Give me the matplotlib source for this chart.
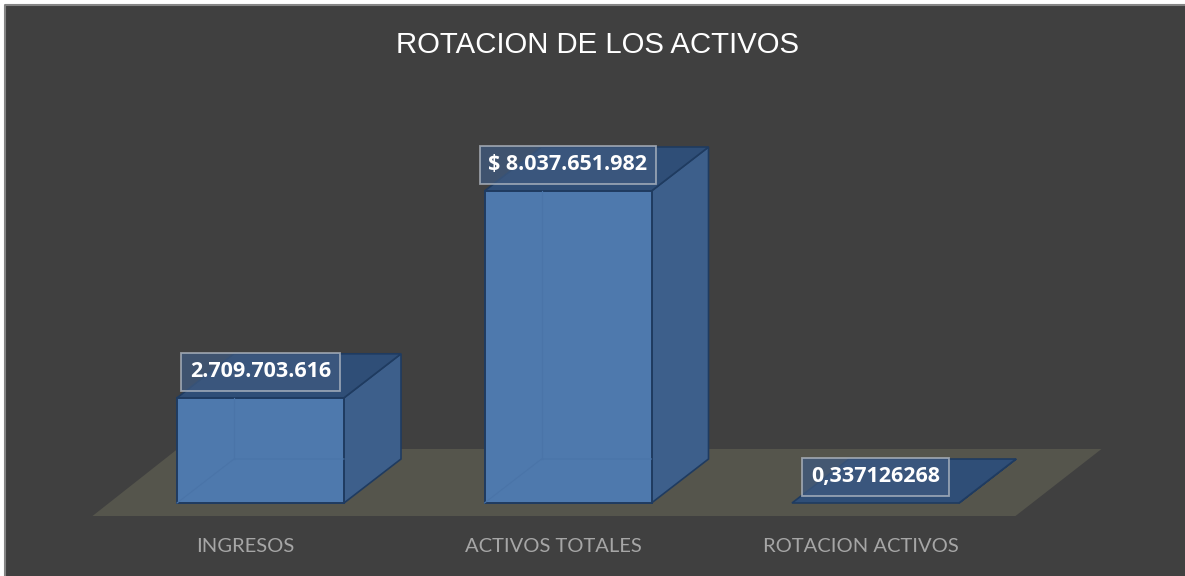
import matplotlib
matplotlib.use('Agg')
import matplotlib.pyplot as plt
from matplotlib.patches import Polygon

categories = ['INGRESOS', 'ACTIVOS TOTALES', 'ROTACION ACTIVOS']
values = [2709703616, 8037651982, 0.337126268]
value_labels = ['2.709.703.616', '$ 8.037.651.982', '0,337126268']
title = 'ROTACION DE LOS ACTIVOS'

W, H = 1185, 576
bg = '#404040'
front_c = '#4E79AD'
side_c = '#3D5F8B'
top_c = '#2F4E77'
edge_c = '#1F3B60'
floor_c = '#55554C'

# escala: pixeles -> unidades del eje
x_unit = 307.5
y_unit = 8037651982 / 312
x0_px = 260.5
y0_px = 503

bar_w = 167 / x_unit
dx = 57 / x_unit
dy = 44 * y_unit
floor_front = -13 * y_unit
floor_back = 54 * y_unit


def main():
    fig = plt.figure(figsize=(W / 100, H / 100), dpi=100, facecolor='white')
    ax = fig.add_axes([0, 0, 1, 1])
    ax.set_xlim(-x0_px / x_unit, (W - x0_px) / x_unit)
    ax.set_ylim(-(H - y0_px) * y_unit, y0_px * y_unit)
    ax.axis('off')

    # fondo y borde (solo arriba e izquierda)
    m_x, m_y = 5 / W, 5 / H
    ax.add_patch(plt.Rectangle((m_x, 0), 1 - m_x, 1 - m_y, transform=ax.transAxes, fc=bg, ec='none', zorder=0))
    ax.plot([m_x, m_x, 1], [0, 1 - m_y, 1 - m_y], transform=ax.transAxes, color='#858585', lw=1.5, zorder=0.5)

    # piso
    ax.add_patch(Polygon([(-168 / x_unit, floor_front), (755 / x_unit, floor_front),
                          (841 / x_unit, floor_back), (-83 / x_unit, floor_back)],
                         fc=floor_c, ec='none', zorder=1))

    for i, v in enumerate(values):
        l, r = i - bar_w / 2, i + bar_w / 2
        # lado y tapa
        ax.add_patch(Polygon([(r, 0), (r + dx, dy), (r + dx, v + dy), (r, v)],
                             fc=side_c, ec=edge_c, lw=1.2, zorder=3))
        ax.add_patch(Polygon([(l, v), (r, v), (r + dx, v + dy), (l + dx, v + dy)],
                             fc=top_c, ec=edge_c, lw=1.2, zorder=3))
        if v > 1:
            # frente
            ax.add_patch(Polygon([(l, 0), (r, 0), (r, v), (l, v)],
                                 fc=front_c, ec=edge_c, lw=1.4, zorder=4))
            # aristas de atras, se ven por la transparencia
            ax.plot([l, l + dx, r], [0, dy, dy], color='#4A74A8', lw=0.8, zorder=5)
            ax.plot([l + dx, l + dx], [dy, v], color='#4A74A8', lw=0.8, zorder=5)

    # etiquetas
    offs = [26, 26, 26]
    for i, (v, s) in enumerate(zip(values, value_labels)):
        ax.text(i, v + offs[i] * y_unit, s, color='white', fontsize=15.5,
                family='Open Sans', weight='bold', ha='center', va='center', zorder=6,
                bbox=dict(boxstyle='square,pad=0.4', fc='#3F5A80', ec='#B5BCC6', lw=1.3, alpha=0.75))

    label_x = [-15, -15, -15]
    for i, c in enumerate(categories):
        ax.text(i + label_x[i] / x_unit, -43 * y_unit, c, color='#A6A6A6', fontsize=14.5,
                family='Lato', ha='center', va='center')

    ax.text(0.5045, 1 - 45 / H, title, transform=ax.transAxes, color='white', fontsize=21.2,
            family='Liberation Sans', ha='center', va='center')

    fig.savefig('out.png', dpi=100, facecolor='white')


if __name__ == '__main__':
    main()
